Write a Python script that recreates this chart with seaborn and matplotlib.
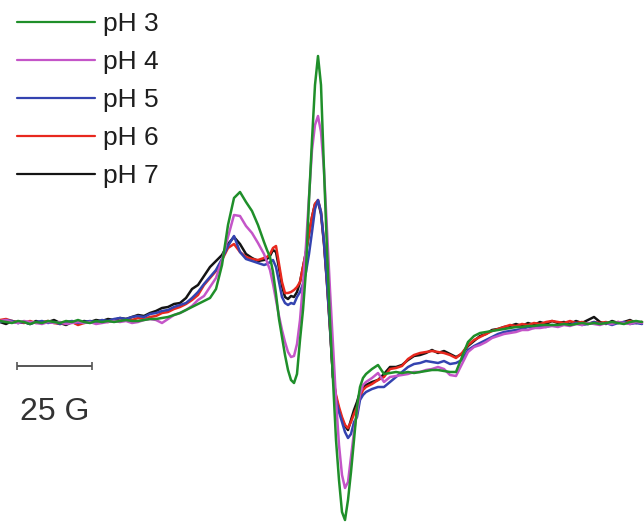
import numpy as np
import pandas as pd
import seaborn as sns
import matplotlib.pyplot as plt

# Magnetic field grid (G, relative to the start of the sweep)
field = np.r_[np.arange(0, 60, 2), np.arange(60, 89, 2), np.arange(89, 123, 1),
              np.arange(124, 131, 2), np.arange(132, 215, 2)]

labels = ["pH 3", "pH 4", "pH 5", "pH 6", "pH 7"]
colors = ["#1f8f2a", "#c455c8", "#3443b0", "#e8281e", "#141414"]

# First-derivative EPR signal (arb. units) for each pH
ph3 = [1, 0, -1, 1, 0, -2, 0, -1, 1, 0, -1, 1, 0, 2, 0, -1, 1, 0, 1, 0, 1, 2, 1, 1, 2, 3, 3, 4, 5, 7,
       9, 12, 15, 18, 21, 24, 33, 57, 97, 124, 130, 120, 111, 97, 80,
       72, 65, 50, 28, 3, -15, -33, -48, -58, -61, -52, -18, 12, 52, 122, 182, 237, 266, 237, 152,
       72, 0, -58, -118, -158, -190, -198, -178, -150, -118, -85, -65, -56, -52,
       -47, -43, -52, -51,
       -50, -51, -50, -51, -50, -49, -48, -48, -49, -50, -50, -35, -20, -14, -11, -10, -9, -8, -7, -6,
       -5, -5, -4, -4, -3, -3, -3, -3, -2, -3, -2, -1, -2, -1, -2, -1, 0, -1, -2, 0, 1, 0]
ph4 = [1, 2, 0, -1, 1, 0, -1, -2, 0, -1, 0, -2, -1, 0, -1, 0, -2, -1, 0, 1, 0, 1, -1, 0, 2, 3, 2, -1, 3, 7,
       9, 12, 16, 22, 26, 35, 44, 62, 85, 107, 106, 96, 89, 79, 68,
       60, 52, 38, 22, 6, -8, -20, -30, -35, -34, -22, 2, 38, 77, 125, 172, 197, 206, 190, 152,
       92, 32, -23, -78, -123, -153, -166, -160, -135, -110, -90, -72, -63, -60,
       -56, -51, -60, -55,
       -54, -53, -52, -50, -50, -48, -47, -45, -47, -53, -54, -42, -30, -25, -23, -20, -16, -14, -12, -11,
       -10, -8, -8, -6, -6, -5, -4, -5, -3, -4, -2, -3, -1, -2, -3, -1, -2, 0, -1, -2, 0, -1]
ph5 = [0, 2, 1, -1, 0, -2, 0, 1, -1, 0, -2, 0, 1, -1, 0, 1, 0, 2, 1, 3, 4, 3, 5, 6, 5, 8, 9, 11, 12, 15,
       17, 19, 24, 30, 38, 45, 52, 63, 76, 86, 70, 63, 61, 59, 57,
       58, 60, 62, 55, 40, 25, 19, 17, 19, 18, 25, 30, 38, 50, 68, 90, 113, 122, 110, 80,
       40, -5, -55, -78, -90, -100, -110, -116, -112, -100, -95, -78, -73, -70,
       -67, -65, -65, -60,
       -55, -50, -45, -42, -41, -39, -40, -41, -39, -42, -41, -38, -28, -24, -21, -18, -15, -12, -10, -9,
       -8, -7, -5, -6, -4, -5, -3, -4, -2, -3, -1, -3, -2, 0, -2, -1, -3, -1, 0, -2, -1, -2]
ph6 = [2, 3, 1, 0, -1, 1, -1, 0, 1, -1, -2, -1, 0, -3, -1, 0, -1, 1, 0, 2, 1, 3, 2, 4, 3, 5, 6, 9, 10, 13,
       15, 18, 22, 27, 37, 44, 51, 62, 74, 78, 70, 65, 63, 62, 64,
       65, 68, 74, 76, 58, 40, 29, 29, 30, 32, 35, 40, 55, 70, 88, 105, 118, 122, 110, 80,
       40, -5, -55, -73, -85, -95, -103, -106, -100, -92, -85, -75, -68, -65,
       -62, -58, -55, -47,
       -46, -44, -37, -33, -31, -30, -29, -30, -31, -33, -36, -31, -23, -18, -15, -12, -9, -7, -5, -3,
       -4, -2, -3, -1, -2, 0, 1, 0, -1, 1, -1, 0, -2, 0, -1, 0, -2, 0, -1, 1, -1, 0]
ph7 = [0, -2, 1, -1, 0, -2, 1, -1, 0, 2, -1, -3, 0, -2, 1, 0, 2, 1, 3, 2, 4, 3, 5, 7, 6, 9, 11, 14, 15, 18,
       19, 24, 33, 37, 46, 55, 61, 67, 78, 85, 78, 68, 64, 61, 62,
       63, 66, 72, 70, 54, 36, 25, 23, 26, 25, 30, 40, 55, 70, 88, 105, 118, 121, 108, 78,
       38, -7, -55, -75, -88, -97, -104, -108, -98, -88, -80, -70, -66, -63,
       -60, -58, -52, -45,
       -45, -43, -38, -34, -33, -31, -28, -31, -29, -32, -35, -32, -24, -19, -14, -12, -8, -7, -5, -4,
       -2, -4, -1, -3, 0, -2, 1, -1, 0, -2, 1, -1, 2, 5, 0, -2, 1, -1, 0, 2, -1, 0]

series = [ph3, ph4, ph5, ph6, ph7]
df = pd.concat(
    [pd.DataFrame({"field": field, "signal": s, "sample": lab}) for lab, s in zip(labels, series)],
    ignore_index=True,
)

sns.set_theme(style="white")
plt.rcParams["font.family"] = ["Liberation Sans", "DejaVu Sans"]

fig = plt.figure(figsize=(6.44, 5.22), dpi=100)
ax = fig.add_axes([0, 0, 1, 1])
sns.lineplot(data=df, x="field", y="signal", hue="sample", hue_order=labels,
             palette=colors, estimator=None, sort=False, linewidth=1.8, ax=ax)

# keep the low-pH traces on top
for i, line in enumerate(ax.lines[:len(labels)]):
    line.set_zorder(10 - i)
    line.set_solid_joinstyle("round")

ax.set_xlim(0, 644 / 3)
ax.set_ylim(-200, 322)
ax.axis("off")

handles, labs = ax.get_legend_handles_labels()
leg = ax.legend(handles, labs, loc="upper left", bbox_to_anchor=(17 / 644, 1 - 12 / 522),
                frameon=False, fontsize=19, handlelength=2.95, handletextpad=0.3,
                labelspacing=0.53, borderpad=0, borderaxespad=0, labelcolor="#1e1e1e")
for h in leg.get_lines():
    h.set_linewidth(1.6)

# 25 G scale bar
x0, yb = 17 / 3, -44
ax.hlines(yb, x0, x0 + 25, color="#555555", lw=1.4)
ax.vlines([x0, x0 + 25], yb - 4, yb + 4, color="#555555", lw=1.2)
ax.text(20 / 3, -90, "25 G", fontsize=23, ha="left", va="center", color="#333333")

fig.savefig("out.png", dpi=100)
